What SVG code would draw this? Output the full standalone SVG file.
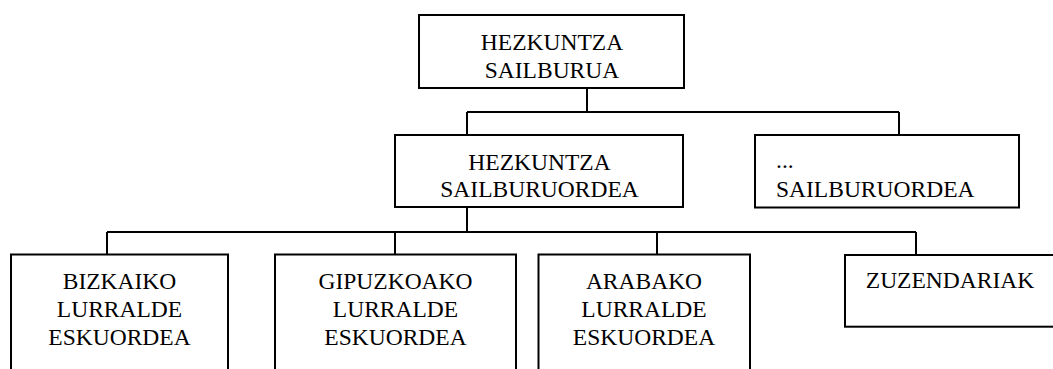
<svg xmlns="http://www.w3.org/2000/svg" width="1053" height="369" viewBox="0 0 1053 369">
<style>
.box{fill:#fff;stroke:#000;stroke-width:2}
.ln{fill:none;stroke:#000;stroke-width:2}
text{font-family:"Liberation Serif","Times New Roman",serif;font-size:23.5px;fill:#000}
.c{text-anchor:middle}
</style>
<rect width="1053" height="369" fill="#fff"/>
<g id="connectors">
<path class="ln" d="M587,88 V112 M467,112 H899 M467,112 V135 M899,112 V135"/>
<path class="ln" d="M467,207 V232 M107,232 H916 M107,232 V255 M395,232 V255 M657,232 V255 M916,232 V255"/>
</g>
<g id="n1">
<rect class="box" x="419" y="15" width="265" height="73"/>
<text class="c" x="552" y="50">HEZKUNTZA</text>
<text class="c" x="552" y="77.5">SAILBURUA</text>
</g>
<g id="n2">
<rect class="box" x="395" y="135" width="288" height="72"/>
<text class="c" x="539.5" y="170">HEZKUNTZA</text>
<text class="c" x="539.5" y="196.5">SAILBURUORDEA</text>
</g>
<g id="n3">
<rect class="box" x="755" y="135" width="264" height="72.5"/>
<text x="776" y="168">...</text>
<text x="776" y="196.5">SAILBURUORDEA</text>
</g>
<g id="n4">
<rect class="box" x="11" y="254.5" width="217" height="130"/>
<text class="c" x="119.5" y="289">BIZKAIKO</text>
<text class="c" x="119.5" y="316.7">LURRALDE</text>
<text class="c" x="119.5" y="345">ESKUORDEA</text>
</g>
<g id="n5">
<rect class="box" x="275" y="254.5" width="241" height="130"/>
<text class="c" x="395.5" y="289">GIPUZKOAKO</text>
<text class="c" x="395.5" y="316.7">LURRALDE</text>
<text class="c" x="395.5" y="345">ESKUORDEA</text>
</g>
<g id="n6">
<rect class="box" x="538.5" y="254.5" width="211.5" height="130"/>
<text class="c" x="644" y="289">ARABAKO</text>
<text class="c" x="644" y="316.7">LURRALDE</text>
<text class="c" x="644" y="345">ESKUORDEA</text>
</g>
<g id="n7">
<rect class="box" x="845" y="255" width="215" height="71.7"/>
<text class="c" x="950" y="288.3">ZUZENDARIAK</text>
</g>
</svg>
